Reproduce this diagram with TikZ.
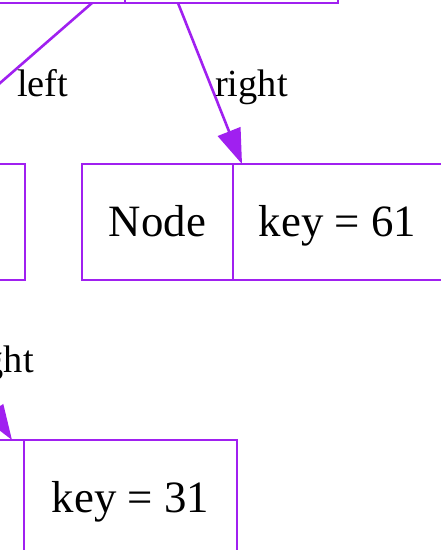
\documentclass[tikz,border=0pt]{standalone}
\usepackage{fontspec}
\setmainfont{Liberation Serif}
\usetikzlibrary{arrows.meta}
\definecolor{gvpurple}{RGB}{160,32,240}
\begin{document}
\begin{tikzpicture}[x=1pt,y=-1pt,
  cell/.style={draw=gvpurple, line width=2.6pt, rectangle, inner sep=0pt, outer sep=0pt,
    minimum height=116pt, text height=31pt, text depth=3pt,
    font=\fontsize{44.8}{50}\selectfont},
  edge/.style={draw=gvpurple, line width=2.6pt, -{Triangle[length=35pt,width=24pt]}},
  elabel/.style={inner sep=0pt, font=\fontsize{38.4}{44}\selectfont}
]
\useasboundingbox (0,0) rectangle (441,550);
\clip (0,0) rectangle (441,550);
% top record
\node[cell, minimum width=275pt] (tl) at (-12.5,-55) {};
\node[cell, minimum width=213pt] (tr) at (231.5,-55) {};
% middle-left record
\node[cell, minimum width=151pt] (mla) at (-258.5,222) {};
\node[cell, minimum width=208pt] (mlb) at (-79,222) {};
% middle-right record
\node[cell, minimum width=151pt] (mra) at (157.5,222) {Node};
\node[cell, minimum width=209pt] (mrb) at (337.5,222) {key = 61};
% bottom record
\node[cell, minimum width=151pt] (ba) at (-51.5,498) {};
\node[cell, minimum width=213pt] (bb) at (130.5,498) {key = 31};
% edges
\draw[edge] ([xshift=-33pt]tl.south east) -- ([xshift=-14pt]mlb.north);
\draw[edge] ([xshift=53pt]tr.south west) -- ([xshift=9pt]mrb.north west);
\draw[edge] ([xshift=-13pt]mlb.south) -- ([xshift=-12pt]bb.north west);
% labels
\node[elabel, anchor=base west] (lleft) at (17,96) {left};
\node[elabel, anchor=base west] (lright) at (215,96) {right};
\node[elabel, anchor=base east] (lright2) at (34,372) {right};
\end{tikzpicture}
\end{document}
